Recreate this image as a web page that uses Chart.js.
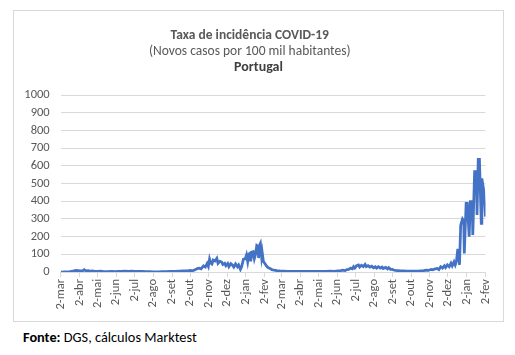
<!DOCTYPE html>
<html>
<head>
<meta charset="utf-8">
<script src="https://cdn.jsdelivr.net/npm/chart.js@4.4.1/dist/chart.umd.min.js"></script>
<style>
  html, body { margin: 0; padding: 0; background: #ffffff; }
  body { width: 515px; height: 355px; position: relative; overflow: hidden; }
  #box { position: absolute; left: 13px; top: 10px; width: 489px; height: 310px; border: 1px solid #d9d9d9; }
  #c { display: block; }
  #src { position: absolute; left: 23px; top: 328px; font-family: Carlito, Lato, "Open Sans", sans-serif; font-size: 14.3px; color: #000; white-space: nowrap; }
</style>
</head>
<body>
<div id="box"><canvas id="c" width="489" height="310"></canvas></div>
<div id="src"><b>Fonte:</b> DGS, cálculos Marktest</div>
<script>
// x positions: days since 2-mar-2020
const tickDays   = [0,31,61,92,122,153,184,214,245,275,306,337,365,396,426,457,487,518,549,579,610,640,671,702];
const tickLabels = ['2-mar','2-abr','2-mai','2-jun','2-jul','2-ago','2-set','2-out','2-nov','2-dez','2-jan','2-fev',
                    '2-mar','2-abr','2-mai','2-jun','2-jul','2-ago','2-set','2-out','2-nov','2-dez','2-jan','2-fev'];
const yTicks = [0,100,200,300,400,500,600,700,800,900,1000];

// days since 2-mar-2020
const dayIndex = [0,7,14,18,22,25,29,32,36,39,42,45,49,53,57,61,66,71,77,84,91,95,100,106,112,117,122,128,134,140,147,154,161,168,175,182,189,196,203,210,
  214,218,222,226,229,232,236,239,242,244,246,248,250,252,255,258,260,263,266,268,271,273,276,278,281,284,286,289,292,294,297,299,302,305,
  307,309,311,313,314,316,318,320,322,324,326,327,329,330,332,333,335,337,339,341,344,346,349,353,357,362,
  368,375,382,389,396,403,410,417,424,431,438,445,452,458,462,466,470,473,476,479,482,484,486,489,492,494,497,500,503,505,508,511,514,517,520,522,525,528,531,533,537,540,542,545,548,550,553,557,561,566,572,579,586,593,
  600,604,608,612,615,619,622,625,628,631,634,636,639,642,645,647,650,652,654,656,658,659,661,664,666,667,670,672,675,677,680,681,684,687,688,690,692,695,696,699,702];
// new cases per 100 thousand inhabitants
const casesPer100k = [0,0.3,1,4,6,9,8,7,6,13,5,8,5,6,3,3,5,2,2,3,2,4,3,5,3,5,3,4,3,2,2,1,1,2,2,3,3,5,6,7,
  9,7,13,20,22,18,35,28,48,32,73,50,45,68,62,77,49,60,56,42,49,35,48,30,47,38,28,46,30,40,15,30,72,74,
  96,58,102,107,60,112,115,75,100,150,145,79,155,162,86,110,58,50,40,30,22,20,13,10,8,6,
  5,4,3,4,3,4,3,4,3,4,4,5,4,6,7,10,8,14,15,22,18,30,22,36,40,28,38,30,43,30,36,28,33,24,30,22,30,22,28,20,26,18,25,15,15,11,9,8,7,6,5,5,5,6,
  8,11,9,15,12,18,20,14,30,22,35,25,40,30,50,35,58,40,60,124,124,40,265,300,290,105,388,388,200,397,397,209,567,567,322,637,637,275,529,463,313];

const FONT = 'Carlito, Lato, "Open Sans", sans-serif';
const GRID = '#d9d9d9';
const TXT = '#595959';

const points = dayIndex.map((d, i) => ({ x: d, y: casesPer100k[i] }));

const thirdLine = {
  id: 'thirdLine',
  afterDraw(chart) {
    const ctx = chart.ctx;
    ctx.save();
    ctx.font = 'bold 14px ' + FONT;
    ctx.fillStyle = '#404040';
    ctx.textAlign = 'center';
    ctx.textBaseline = 'middle';
    ctx.fillText('Portugal', chart.width / 2, 56);
    ctx.restore();
  }
};

new Chart(document.getElementById('c'), {
  type: 'line',
  data: {
    datasets: [{
      label: 'Portugal',
      data: points,
      borderColor: '#4472C4',
      borderWidth: 2.75,
      pointRadius: 0,
      tension: 0,
      fill: false
    }]
  },
  options: {
    responsive: false,
    animation: false,
    layout: { padding: { left: 0, right: 17.5, bottom: 0, top: 0 } },
    plugins: {
      legend: { display: false },
      tooltip: { enabled: false },
      title: {
        display: true,
        text: 'Taxa de incidência COVID-19',
        color: TXT,
        font: { family: FONT, size: 13.5, weight: 'bold', lineHeight: 1.2 },
        padding: { top: 16.5, bottom: 0 }
      },
      subtitle: {
        display: true,
        text: '(Novos casos por 100 mil habitantes)',
        color: TXT,
        font: { family: FONT, size: 13.5, weight: 'normal', lineHeight: 1.1 },
        padding: { top: 0, bottom: 36.45 }
      }
    },
    scales: {
      x: {
        type: 'linear',
        min: tickDays[0],
        max: tickDays[tickDays.length - 1],
        afterBuildTicks(axis) { axis.ticks = tickDays.map(v => ({ value: v })); },
        afterFit(axis) { axis.paddingLeft = 0; axis.paddingRight = 0; axis.height = 49; },
        ticks: {
          autoSkip: false,
          minRotation: 90,
          maxRotation: 90,
          padding: 2,
          color: TXT,
          font: { family: FONT, size: 12.5 },
          callback(value, index) { return tickLabels[index]; }
        },
        grid: { drawOnChartArea: false, drawTicks: true, tickLength: 5, color: GRID },
        border: { color: GRID }
      },
      y: {
        min: 0,
        max: 1000,
        afterBuildTicks(axis) { axis.ticks = yTicks.map(v => ({ value: v })); },
        afterFit(axis) { axis.width = 46.7; },
        ticks: { autoSkip: false, color: TXT, padding: 11, font: { family: FONT, size: 12.5 }, callback(value) { return String(value); } },
        grid: { color: GRID, drawTicks: false },
        border: { display: false }
      }
    }
  },
  plugins: [thirdLine]
});
</script>
</body>
</html>
